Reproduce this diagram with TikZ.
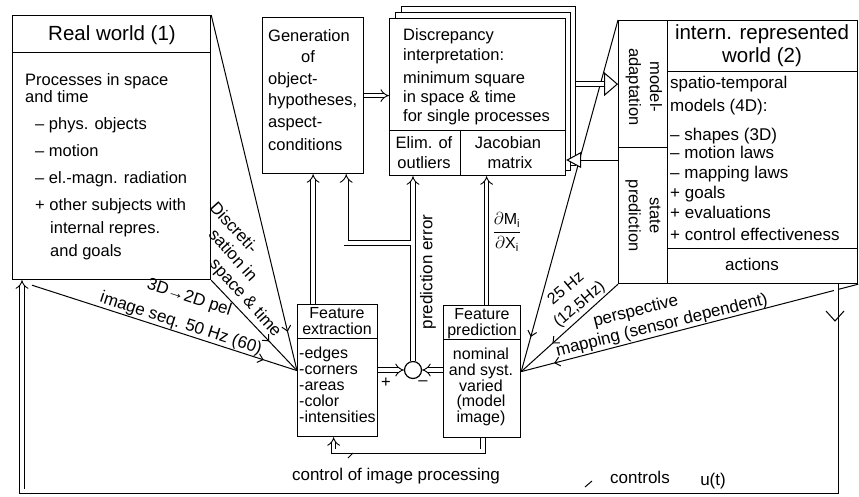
\documentclass[tikz,border=0pt]{standalone}
\usepackage{fontspec}
\setmainfont{Liberation Sans}
\usetikzlibrary{arrows.meta,decorations.markings,calc}
\begin{document}
\begin{tikzpicture}[x=1pt,y=-1pt,
  box/.style={draw, line width=1.2pt, inner sep=0pt, anchor=north west, fill=white},
  tx/.style={inner sep=0pt, font=\fontsize{16.5}{18}\selectfont},
  tr/.style={inner sep=0pt, font=\fontsize{17}{19}\selectfont},
  tl/.style={inner sep=0pt, font=\fontsize{20.5}{23}\selectfont},
  fx/.style={inner sep=0pt, font=\fontsize{16}{17}\selectfont},
  rot/.style={inner sep=0pt, font=\fontsize{16.5}{21}\selectfont, rotate=-90, align=center},
  dbl/.style={line width=0.9pt, double, double distance=3.6pt, -{Implies}},
  dblplain/.style={line width=0.9pt, double, double distance=4pt},
  ln/.style={line width=1pt},
  flow/.style={line width=1pt, postaction={decorate}, decoration={markings, mark=at position -#1 with {\arrow{Straight Barb[length=5pt,width=9pt]}}}},
]
\path[use as bounding box, fill=white] (0,0) rectangle (859,496);

% ---------------- boxes ----------------
\node[box, minimum width=198pt, minimum height=264pt] (rw) at (12,15) {};
\draw[ln] (12,52) -- (210,52);
\node[box, minimum width=101pt, minimum height=156pt] (gen) at (262,17) {};
\node[box, minimum width=174pt, minimum height=159pt] (dis3) at (401,6) {};
\node[box, minimum width=175pt, minimum height=158pt] (dis2) at (395,12) {};
\node[box, minimum width=176pt, minimum height=112pt] (dis1) at (389,18) {};
\node[box, minimum width=71pt, minimum height=45pt] (elim) at (389,130) {};
\node[box, minimum width=105pt, minimum height=45pt] (jac) at (460,130) {};
\node[box, minimum width=49pt, minimum height=127pt] (ma) at (618,20) {};
\node[box, minimum width=49pt, minimum height=136pt] (sp) at (618,147) {};
\node[box, minimum width=190pt, minimum height=228pt] (iw) at (667,20) {};
\node[box, minimum width=190pt, minimum height=35pt] (act) at (667,248) {};
\draw[ln] (667,71) -- (857,71);
\node[box, minimum width=80pt, minimum height=132pt] (fe) at (297,304) {};
\draw[ln] (297,338) -- (377,338);
\node[box, minimum width=77pt, minimum height=132pt] (fp) at (443,305) {};
\draw[ln] (443,339) -- (520,339);
\node[draw, circle, line width=1.2pt, minimum size=17pt, inner sep=0pt] (sum) at (413,370) {};

% ---------------- converging thin lines ----------------
\coordinate (imgsrc) at ($(rw.south west)+(20,5)$);
\draw[flow=40pt] (rw.north east) -- (fe.west);
\draw[flow=40pt] (rw.south east) -- (fe.west);
\draw[flow=35pt] (imgsrc) -- (fe.west);
\draw[flow=36pt] (ma.north west) -- (fp.east);
\draw[flow=42pt] (sp.south west) -- (fp.east);
\draw[flow=34pt] (act.south east) -- (fp.east);

% ---------------- double arrows ----------------
\coordinate (yB) at (0,160);
\coordinate (yC) at (0,243);
\draw[dbl] (gen.east) -- (gen.east -| dis1.west);
\draw[dbl] (gen.south |- fe.north) -- (gen.south);
\draw[dbl] (sum.north) -- (sum.north |- elim.south);
\draw[dbl] ($(sum.north |- yC)+(-2,0)$) -| ($(gen.south east)+(-18,0)$);
\draw[dbl] (fe.east |- sum) -- (sum.west);
\draw[dbl] (fp.west |- sum) -- (sum.east);
\coordinate (fpj) at ($(fp.north)+(4.5,0)$);
\draw[dbl] (fpj) -- (fpj |- jac.south);
\coordinate (cipA) at ($(fp.south)+(1,0)$);
\coordinate (cipB) at ($(fe.south)+(-4,0)$);
\draw[dbl] (cipA) -- ++(0,13) -| (cipB);
\draw[dbl] ($(act.south east)+(-22,0)$) -- ++(0,207) -| ($(rw.south west)+(10,0)$);
\draw[ln] (826,311) -- (835,321) -- (844,311);

% big hollow arrows
\draw[dblplain] (dis3.east |- ma.west) -- ($(ma.west)+(-14,0)$);
\draw[ln, -{Triangle[length=14pt,width=24pt,fill=white]}] ($(ma.west)+(-14.5,0)$) -- (ma.west);
\draw[ln, -{Triangle[length=15pt,width=16pt,fill=white]}] (sp.west |- yB) -- (jac.east |- yB);

% ---------------- texts ----------------
\node[tl, anchor=base] (rwtitle) at (112,40) {Real world (1)};
\foreach \t/\xx/\yy [count=\i] in {{Processes in space}/25/85, {and time}/25/102,
  {– phys. objects}/35/129, {– motion}/35/156, {– el.-magn. radiation}/35/183,
  {+ other subjects with}/35/210, {internal repres.}/50/233, {and goals}/50/256}
  \node[tx, anchor=base west] (rwt\i) at (\xx,\yy) {\t};

\foreach \t/\yy [count=\i] in {{Generation}/41, {object-}/84, {hypotheses,}/105, {aspect-}/127, {conditions}/150}
  \node[tx, anchor=base west] (gent\i) at (268,\yy) {\t};
\node[tx, anchor=base] (genof) at (308,62) {of};

\foreach \t/\yy [count=\i] in {{Discrepancy}/40, {interpretation:}/60, {minimum square}/83, {in space \& time}/102, {for single processes}/121}
  \node[tx, anchor=base west] (dist\i) at (403,\yy) {\t};
\node[tx, anchor=base] (elimt1) at (424,148) {Elim. of};
\node[tx, anchor=base] (elimt2) at (424,168) {outliers};
\node[tx, anchor=base] (jact1) at (508,148) {Jacobian};
\node[tx, anchor=base] (jact2) at (510,168) {matrix};

\node[tl, anchor=base] (iwt1) at (762,39) {intern. represented};
\node[tl, anchor=base] (iwt2) at (762,62) {world (2)};
\foreach \t/\yy [count=\i] in {{spatio-temporal}/88, {models (4D):}/111, {– shapes (3D)}/140,
  {– motion laws}/158, {– mapping laws}/178, {+ goals}/198, {+ evaluations}/218, {+ control effectiveness}/240}
  \node[tr, anchor=base west] (iwb\i) at (670,\yy) {\t};
\node[tr, anchor=base] (actt) at (752,270) {actions};

\node[rot] (mat) at (644,87) {model-\\adaptation};
\node[rot] (spt) at (sp.center) {state\\prediction};

\node[fx, anchor=base] (fet1) at (337,318) {Feature};
\node[fx, anchor=base] (fet2) at (337,334) {extraction};
\foreach \t/\yy [count=\i] in {{-edges}/358, {-corners}/374, {-areas}/390, {-color}/406, {-intensities}/422}
  \node[fx, anchor=base west] (feb\i) at (299,\yy) {\t};
\node[fx, anchor=base] (fpt1) at (482,319) {Feature};
\node[fx, anchor=base] (fpt2) at (482,335) {prediction};
\foreach \t/\yy [count=\i] in {{nominal}/359, {and syst.}/375, {varied}/391, {(model}/406, {image)}/422}
  \node[fx, anchor=base] (fpb\i) at (481,\yy) {\t};

\node[tx] (plus) at (386,383) {+};
\node[tx] (minus) at (423,383) {–};
\node[tr, rotate=90] (prederr) at (428,272) {prediction error};
\node[inner sep=0pt, font=\fontsize{16}{18}\selectfont] (dmdx) at (507,232) {$\displaystyle\frac{\partial\mathrm{M}_\mathrm{i}}{\partial\mathrm{X}_\mathrm{i}}$};

\node[inner sep=0pt, font=\fontsize{17}{19}\selectfont, rotate=-48, align=left] (disc) at (245,270)
  {Discreti-\\\hspace*{19.5pt}sation in\\\hspace*{42pt}space \& time};

\node[inner sep=0pt, font=\fontsize{17}{27}\selectfont, rotate=-18, align=center] (img) at (185,311)
  {3D→2D pel\\image seq. 50 Hz (60)};

\node[inner sep=0pt, font=\fontsize{16}{21}\selectfont, rotate=40, align=center] (hz) at (573,297)
  {25 Hz\\(12,5Hz)};

\node[inner sep=0pt, font=\fontsize{17}{20}\selectfont, rotate=14, align=left] (per) at (659.5,316)
  {\hspace*{43.4pt}perspective\\mapping (sensor dependent)};

\node[tr, anchor=base] (cip) at (396,480) {control of image processing};
\draw[ln] (348,458) -- (353,453);
\node[tr, anchor=base] (ctl) at (640,483) {controls};
\node[tr, anchor=base] (ut) at (713,485) {u(t)};
\draw[ln] (585,487) -- (592,481);
\end{tikzpicture}
\end{document}
